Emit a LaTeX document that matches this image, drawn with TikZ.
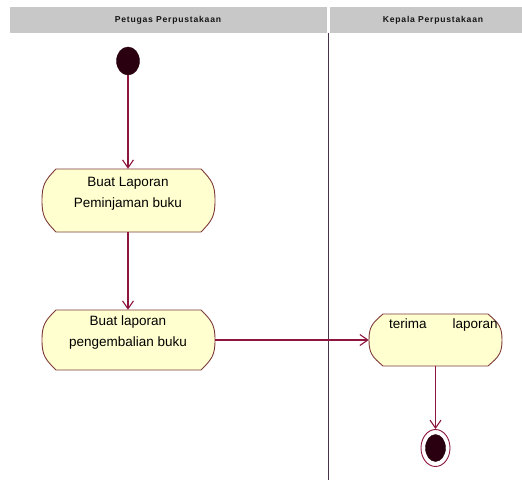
\documentclass[tikz,border=0pt]{standalone}
\usepackage{fontspec}
\setmainfont{Liberation Sans}
\newfontfamily\hdrfont[LetterSpace=9]{Liberation Sans}
\usetikzlibrary{arrows.meta,shapes.geometric}

\definecolor{hdrgray}{RGB}{200,200,200}
\definecolor{hdrtext}{RGB}{20,20,20}
\definecolor{actfill}{RGB}{255,255,208}
\definecolor{actline}{RGB}{125,58,58}
\definecolor{flowcol}{RGB}{140,22,62}
\definecolor{dotcol}{RGB}{42,0,16}
\definecolor{lanecol}{RGB}{72,52,72}

\tikzset{
  hdrcell/.style={fill=hdrgray},
  hdrlabel/.style={font=\hdrfont\bfseries\fontsize{8.6}{10}\selectfont, text=hdrtext, inner sep=0pt},
  laneline/.style={draw=lanecol, line width=1.1pt},
  actshape/.style={fill=actfill, draw=actline, line width=0.9pt},
  anchorbox/.style={draw=none, inner sep=0pt, rectangle},
  acttext/.style={font=\fontsize{13.5}{21}\selectfont, align=center, inner sep=0pt, text=black},
  flow/.style={draw=flowcol, line width=1.1pt, -{Straight Barb[length=8pt,width=11pt,line width=1.1pt]}},
  startdot/.style={ellipse, fill=dotcol, draw=dotcol, minimum width=23pt, minimum height=28pt, inner sep=0pt},
  finalring/.style={ellipse, fill=white, draw=flowcol, line width=0.9pt, minimum width=29pt, minimum height=37pt, inner sep=0pt},
  finaldot/.style={ellipse, fill=dotcol, draw=dotcol, minimum width=20pt, minimum height=27pt, inner sep=0pt}
}

% activity outline: flat top and bottom, curved ends
% #1 = left, #2 = top, #3 = right, #4 = bottom (pixels from the top left)
\newcommand\actpath[4]{%
  \path[actshape] ({#1+14},{-#2}) -- ({#3-14},{-#2})
    .. controls ({#3-3},{-#2-0.18*(#4-#2)}) and ({#3},{-(#2+#4)/2+0.25*(#4-#2)}) .. ({#3},{-(#2+#4)/2})
    .. controls ({#3},{-(#2+#4)/2-0.25*(#4-#2)}) and ({#3-3},{-#4+0.18*(#4-#2)}) .. ({#3-14},{-#4})
    -- ({#1+14},{-#4})
    .. controls ({#1+3},{-#4+0.18*(#4-#2)}) and ({#1},{-(#2+#4)/2-0.25*(#4-#2)}) .. ({#1},{-(#2+#4)/2})
    .. controls ({#1},{-(#2+#4)/2+0.25*(#4-#2)}) and ({#1+3},{-#2-0.18*(#4-#2)}) .. cycle;}

\begin{document}
\begin{tikzpicture}[x=1pt,y=1pt]
\useasboundingbox (0,0) rectangle (522,-483);

% swimlane headers
\fill[hdrcell] (10,-7) rectangle (327,-33);
\fill[hdrcell] (330,-7) rectangle (522,-33);
\node[hdrlabel] (laneA) at (168,-20.5) {Petugas Perpustakaan};
\node[hdrlabel] (laneB) at (433,-20.5) {Kepala Perpustakaan};

% lane separator
\draw[laneline] (328.5,-33) -- (328.5,-480);

% initial state
\node[startdot] (start) at (128,-61) {};

% activities
\actpath{42}{169}{215}{232}
\node[anchorbox, minimum width=173pt, minimum height=63pt] (act1) at (128,-200.5) {};
\node[acttext] (act1txt) at (128,-194) {Buat Laporan\\Peminjaman buku};

\actpath{42}{310}{215}{370}
\node[anchorbox, minimum width=173pt, minimum height=60pt] (act2) at (128,-340) {};
\node[acttext] (act2txt) at (128,-333) {Buat laporan\\pengembalian buku};

\actpath{369}{314}{502}{366}
\node[anchorbox, minimum width=133pt, minimum height=52pt] (act3) at (435.5,-340) {};
\node[acttext, anchor=west] (act3txt) at (389,-325) {terima\hspace{26pt}laporan};

% final state
\node[finalring] (final) at (435.5,-448) {};
\node[finaldot] (finaldot) at (final.center) {};

% transitions
\draw[flow] (start) -- (act1);
\draw[flow] (act1) -- (act2);
\draw[flow] (act2) -- (act3);
\draw[flow] (act3) -- (final);
\end{tikzpicture}
\end{document}
